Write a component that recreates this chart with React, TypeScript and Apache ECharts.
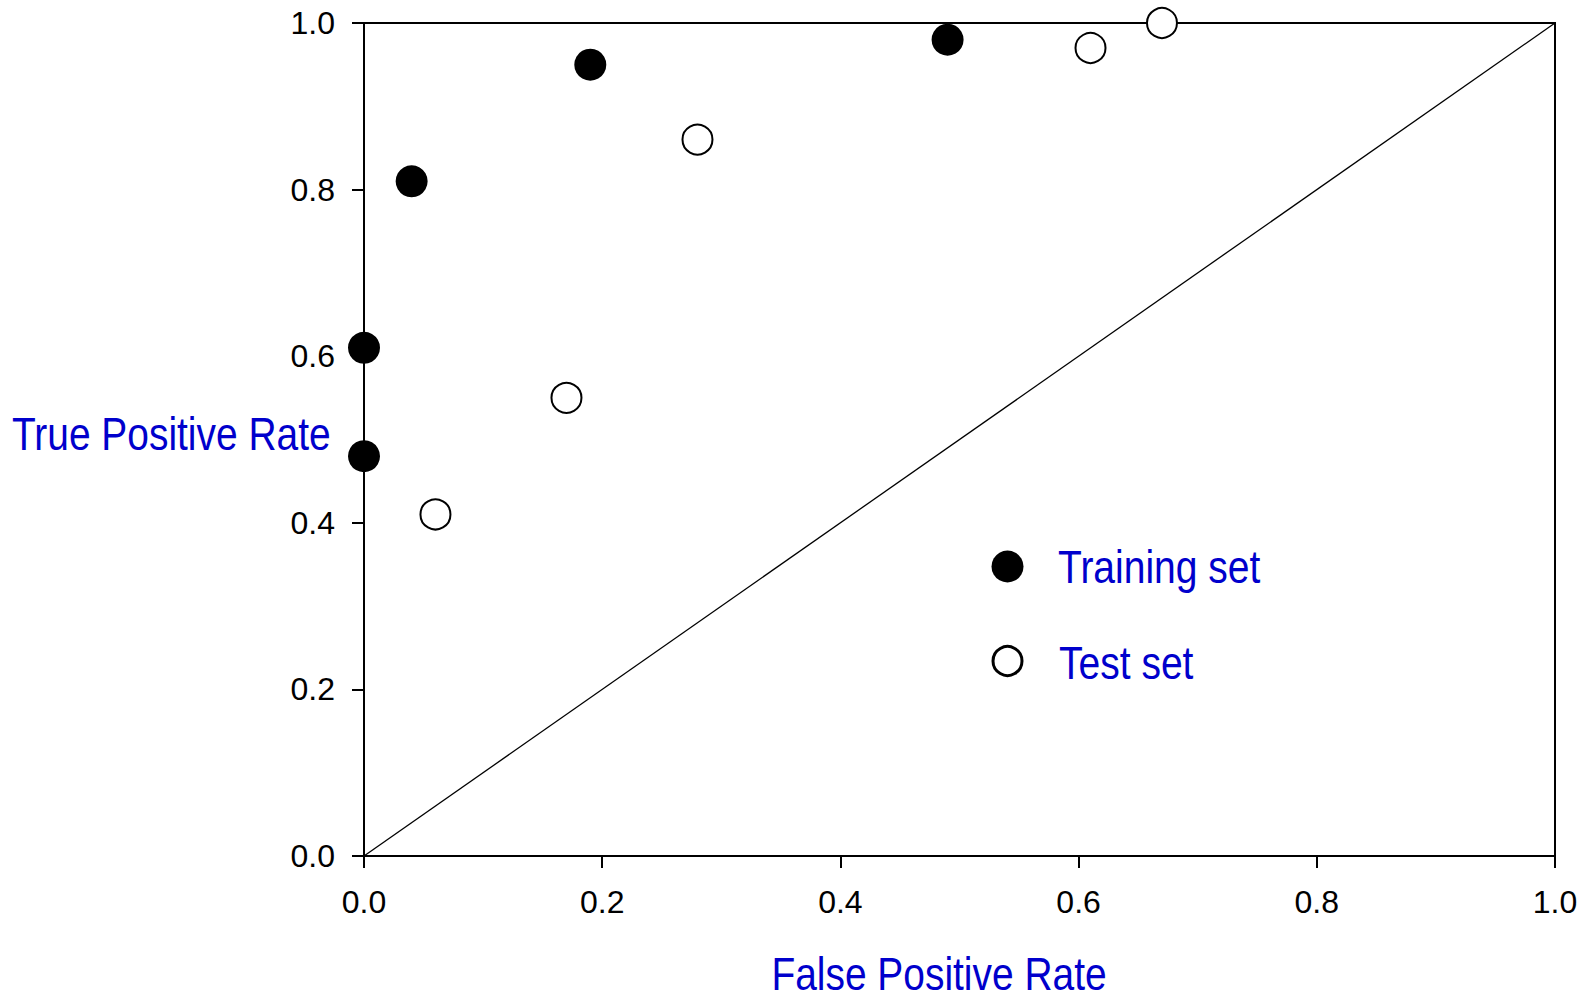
import React, { useEffect, useRef } from "react";
import * as echarts from "echarts";

// ROC operating points: [false positive rate, true positive rate]
const trainingFPR = [0.0, 0.0, 0.04, 0.19, 0.49];
const trainingTPR = [0.48, 0.61, 0.81, 0.95, 0.98];
const testFPR = [0.06, 0.17, 0.28, 0.61, 0.67];
const testTPR = [0.41, 0.55, 0.86, 0.97, 1.0];
// Chance line from (0,0) to (1,1)
const chanceLine = [
  [0, 0],
  [1, 1],
];
const axisTicks = [0, 0.2, 0.4, 0.6, 0.8, 1.0];
const xTitle = "False Positive Rate";
const yTitle = "True Positive Rate";
const legendNames = ["Training set", "Test set"];

const BLUE = "#0000CC";
const SANS = "'Liberation Sans', Arial, sans-serif";
// Titles use a condensed look: regular sans squeezed horizontally
const NARROW_SCALE = 0.846;

export default function App() {
  const ref = useRef<HTMLDivElement>(null);

  useEffect(() => {
    if (!ref.current) return;
    const chart = echarts.init(ref.current, null, { renderer: "svg" });

    const pairs = (xs: number[], ys: number[]) => xs.map((x, i) => [x, ys[i]]);

    const valueAxis = (labelMargin: number) => ({
      type: "value",
      min: axisTicks[0],
      max: axisTicks[axisTicks.length - 1],
      interval: axisTicks[1] - axisTicks[0],
      splitLine: { show: false },
      axisLine: { show: true, onZero: false, lineStyle: { color: "#000", width: 2 } },
      axisTick: { show: true, inside: false, length: 12, lineStyle: { color: "#000", width: 2 } },
      axisLabel: {
        color: "#000",
        fontFamily: SANS,
        fontSize: 32,
        margin: labelMargin,
        formatter: (v: number) => v.toFixed(1),
      },
    });

    const narrowText = (
      text: string,
      x: number,
      y: number,
      size: number,
      align: string,
      scale = NARROW_SCALE
    ) => ({
      type: "text",
      x,
      y,
      scaleX: scale,
      silent: true,
      style: {
        text,
        fill: BLUE,
        fontFamily: SANS,
        fontSize: size,
        lineHeight: Math.round(size * 0.85),
        align,
        verticalAlign: "middle",
      },
    });

    chart.setOption({
      animation: false,
      backgroundColor: "#fff",
      grid: {
        left: 364,
        right: 29,
        top: 23,
        bottom: 145,
        show: true,
        borderColor: "#000",
        borderWidth: 2,
        containLabel: false,
        outerBoundsMode: "none",
      },
      xAxis: valueAxis(30),
      yAxis: valueAxis(29),
      graphic: [
        narrowText(yTitle, 12, 434, 46, "left"),
        narrowText(xTitle, 939, 974, 46, "center"),
        {
          type: "circle",
          silent: true,
          shape: { cx: 1007.5, cy: 566.5, r: 16 },
          style: { fill: "#000" },
        },
        {
          type: "circle",
          silent: true,
          shape: { cx: 1007.5, cy: 661, r: 14.5 },
          style: { fill: "#fff", stroke: "#000", lineWidth: 3 },
        },
        narrowText(legendNames[0], 1058, 567, 47, "left", 0.83),
        narrowText(legendNames[1], 1059, 663, 47, "left", 0.83),
      ],
      series: [
        {
          name: "chance",
          type: "line",
          data: chanceLine,
          symbol: "none",
          silent: true,
          z: 1,
          lineStyle: { color: "#000", width: 1.3 },
        },
        {
          name: legendNames[0],
          type: "scatter",
          data: pairs(trainingFPR, trainingTPR),
          symbol: "circle",
          symbolSize: 32,
          z: 5,
          itemStyle: { color: "#000", opacity: 1 },
          emphasis: { disabled: true },
        },
        {
          name: legendNames[1],
          type: "scatter",
          data: pairs(testFPR, testTPR),
          symbol: "circle",
          symbolSize: 30,
          z: 5,
          itemStyle: { color: "#fff", borderColor: "#000", borderWidth: 2, opacity: 1 },
          emphasis: { disabled: true },
        },
      ],
    });

    return () => chart.dispose();
  }, []);

  return (
    <div
      ref={ref}
      style={{ position: "fixed", left: 0, top: 0, width: 1584, height: 1001 }}
    />
  );
}
